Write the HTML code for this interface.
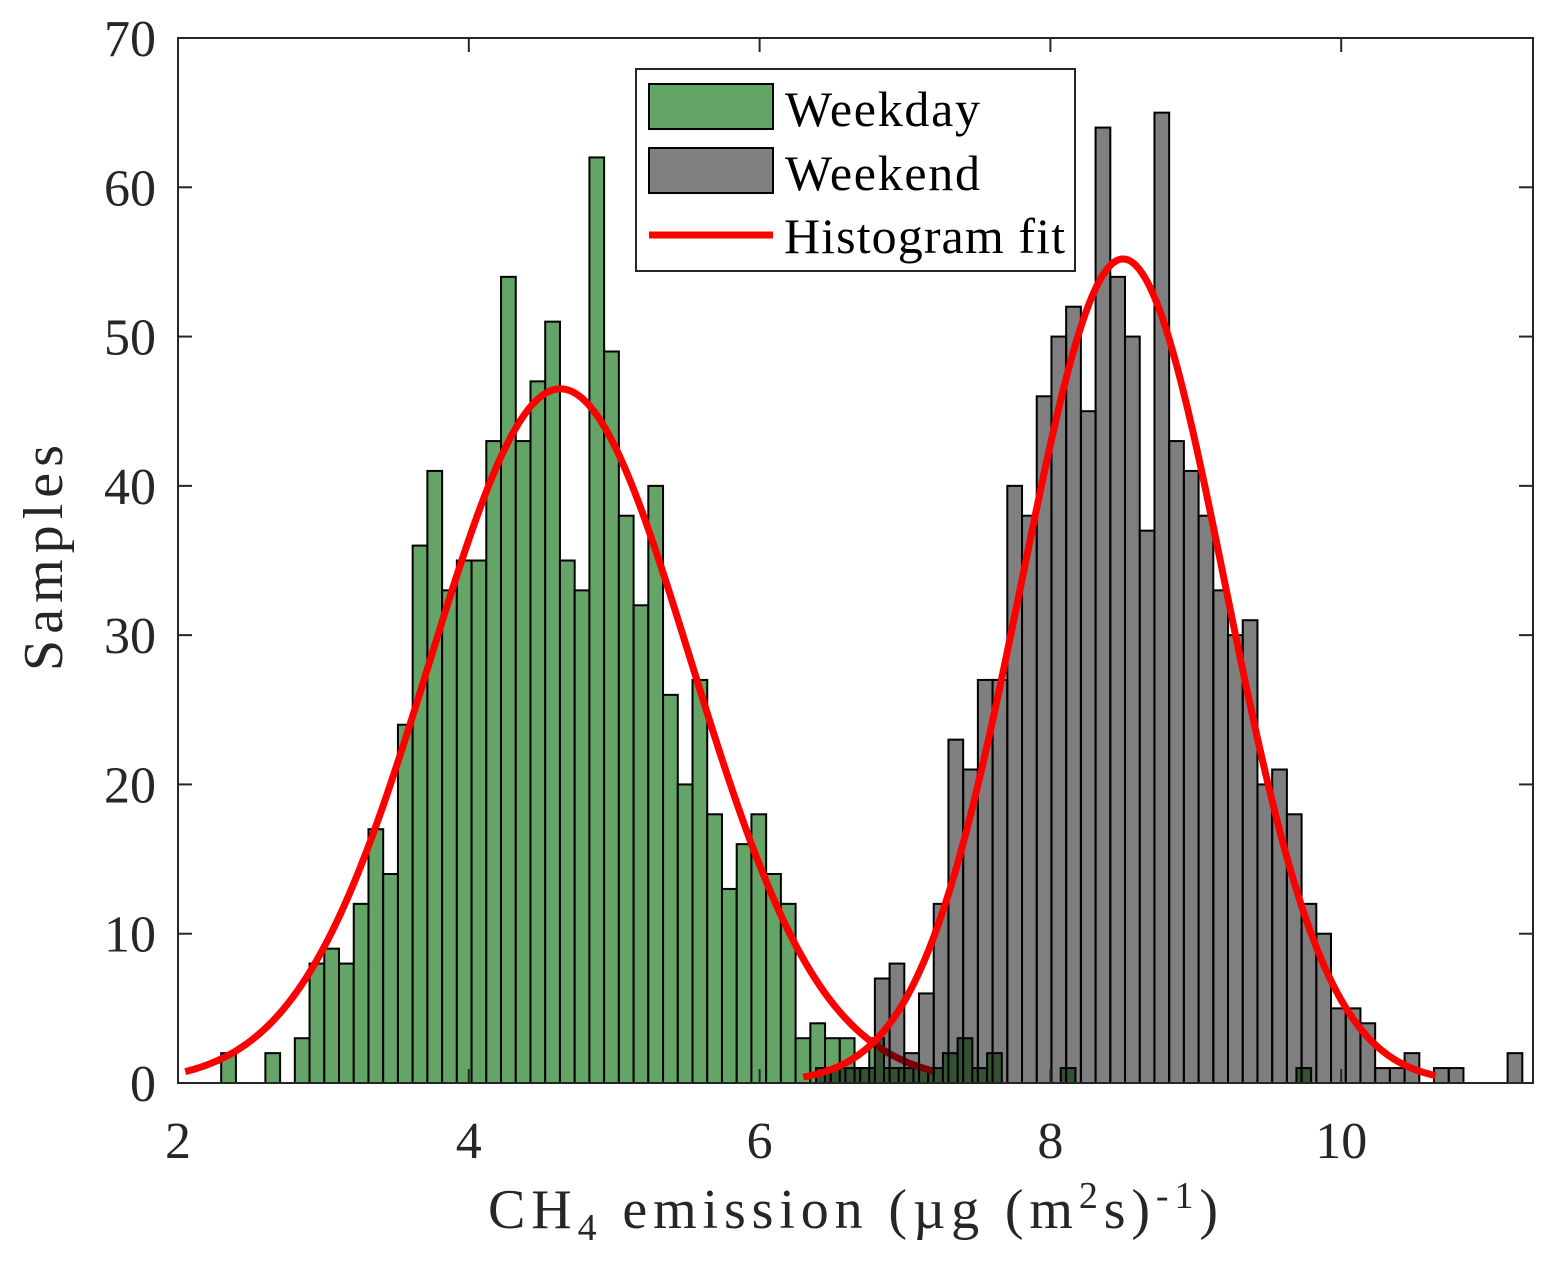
<!DOCTYPE html>
<html><head><meta charset="utf-8"><style>
html,body{margin:0;padding:0;background:#fff;}
svg{display:block;font-family:"Liberation Serif",serif;}
</style></head><body>
<svg id="chart" width="1553" height="1263" viewBox="0 0 1553 1263" xmlns="http://www.w3.org/2000/svg"></svg>
<script>
// ---- data ----
const weekdayStart = 2.297;
const weekdayWidth = 0.1013;
const weekdayCounts = [2,0,0,2,0,3,8,9,8,12,17,14,24,36,41,33,35,35,43,54,43,47,51,35,33,62,49,38,32,40,26,20,27,18,13,16,18,14,12,3,4,3,3,1,3,1,1,1,1,2,3,1,2,0,0,0,0,1,0,0,0,0,0,0,0,0,0,0,0,0,0,0,0,1];
const weekendStart = 6.388;
const weekendWidth = 0.1012;
const weekendCounts = [1,1,1,1,7,8,2,6,12,23,21,27,27,40,38,46,50,52,45,64,54,50,37,65,43,41,38,33,30,31,20,21,18,12,10,5,5,4,1,1,2,0,1,1,0,0,0,2];
const fitMu = [4.63, 8.5];
const fitSigma = [0.9, 0.7];
const fitPeak = [46.5, 55.2];
const fitRange = [[2.05, 7.2], [6.3, 10.65]];
const xTicks = [2,4,6,8,10];
const yTicks = [0,10,20,30,40,50,60,70];

// ---- axes ----
const L=178,R=1533,T=38,B=1083;
const xMin=2, xMax=2+(R-L)/145.4, yMin=0, yMax=70;
const sx=v=>L+(v-xMin)/(xMax-xMin)*(R-L);
const sy=v=>B-(v-yMin)/(yMax-yMin)*(B-T);
const svg=document.getElementById('chart');
const NS='http://www.w3.org/2000/svg';
function mk(tag,attrs,parent){const e=document.createElementNS(NS,tag);for(const k in attrs)e.setAttribute(k,attrs[k]);(parent||svg).appendChild(e);return e;}

const gW=mk('g',{});


weekdayCounts.forEach((c,i)=>{
  if(c<=0)return;
  const x0=sx(weekdayStart+i*weekdayWidth), x1=sx(weekdayStart+(i+1)*weekdayWidth);
  const r=mk('rect',{x:x0,y:sy(c),width:x1-x0,height:sy(0)-sy(c),fill:'rgb(100,164,102)',stroke:'#000','stroke-width':2},gW);
  
  
});

function fitPath(k){
  const [a,b]=fitRange[k];let d='';
  for(let j=0;j<=300;j++){const x=a+(b-a)*j/300;const y=fitPeak[k]*Math.exp(-Math.pow(x-fitMu[k],2)/(2*fitSigma[k]*fitSigma[k]));d+=(j?'L':'M')+sx(x).toFixed(2)+','+sy(y).toFixed(2);}
  return d;
}
const f1=mk('path',{d:fitPath(0),fill:'none',stroke:'#ff0000','stroke-width':7});



const gE=mk('g',{});


weekendCounts.forEach((c,i)=>{
  if(c<=0)return;
  const x0=sx(weekendStart+i*weekendWidth), x1=sx(weekendStart+(i+1)*weekendWidth);
  mk('rect',{x:x0,y:sy(c),width:x1-x0,height:sy(0)-sy(c),fill:'rgba(0,0,0,0.5)',stroke:'none'},gE);
  const r=mk('rect',{x:x0,y:sy(c),width:x1-x0,height:sy(0)-sy(c),fill:'none',stroke:'#000','stroke-width':2},gE);
  
  
});

const f2=mk('path',{d:fitPath(1),fill:'none',stroke:'#ff0000','stroke-width':7});



// frame & ticks
const fr=mk('rect',{x:L,y:T,width:R-L,height:B-T,fill:'none',stroke:'#262626','stroke-width':2});


xTicks.forEach(v=>{
  const x=sx(v);
  mk('line',{x1:x,y1:B,x2:x,y2:B-14,stroke:'#262626','stroke-width':2});
  mk('line',{x1:x,y1:T,x2:x,y2:T+14,stroke:'#262626','stroke-width':2});
  const t=mk('text',{x:x,y:1158,'font-size':52,'text-anchor':'middle',fill:'#262626'});
  t.textContent=v;
  
  
});
yTicks.forEach(v=>{
  const y=sy(v);
  mk('line',{x1:L,y1:y,x2:L+14,y2:y,stroke:'#262626','stroke-width':2});
  mk('line',{x1:R,y1:y,x2:R-14,y2:y,stroke:'#262626','stroke-width':2});
  const t=mk('text',{x:156,y:y+18,'font-size':52,'text-anchor':'end',fill:'#262626'});
  t.textContent=v;
  
  
});
</script>
<svg style="position:absolute;left:0;top:0" width="1553" height="1263" xmlns="http://www.w3.org/2000/svg" font-family="Liberation Serif, serif">
  <text x="0" y="0" transform="translate(62,558) rotate(-90)" font-size="56" text-anchor="middle" textLength="226" lengthAdjust="spacing" fill="#262626">Samples</text>
  <text x="488" y="1228" font-size="56" textLength="730" lengthAdjust="spacing" fill="#262626">CH<tspan font-size="38" dy="12">4</tspan><tspan dy="-12"> emission (µg (m</tspan><tspan font-size="38" dy="-20">2</tspan><tspan dy="20">s)</tspan><tspan font-size="38" dy="-20">-1</tspan><tspan dy="20">)</tspan></text>
  <g>
    <rect x="636" y="69" width="439" height="202" fill="#fff" stroke="#262626" stroke-width="2"/>
    <rect x="649" y="84" width="124" height="45" fill="rgb(100,164,102)" stroke="#000" stroke-width="2"/>
    <text x="785" y="126" font-size="50" textLength="195" lengthAdjust="spacing" fill="#000">Weekday</text>
    <rect x="649" y="148" width="124" height="45" fill="#808080" stroke="#000" stroke-width="2"/>
    <text x="785" y="190" font-size="50" textLength="195" lengthAdjust="spacing" fill="#000">Weekend</text>
    <line x1="649" y1="235" x2="773" y2="235" stroke="#ff0000" stroke-width="7"/>
    <text x="784" y="253" font-size="50" textLength="281" lengthAdjust="spacing" fill="#000">Histogram fit</text>
  </g>
</svg>
</body></html>
